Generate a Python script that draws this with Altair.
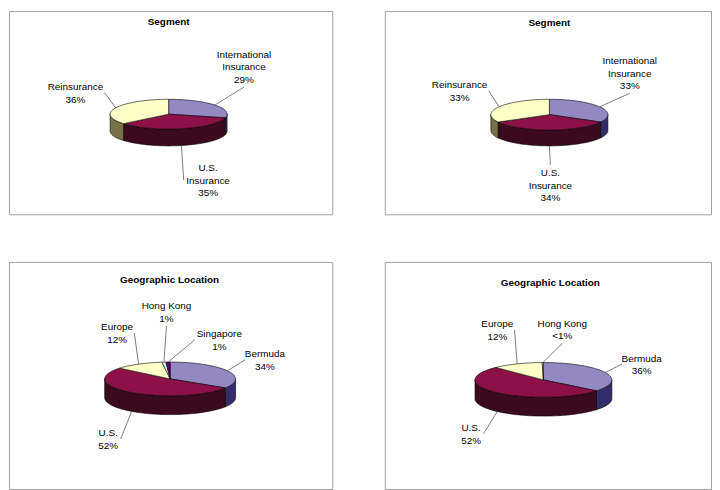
import math
import altair as alt
import pandas as pd

# ---------------- data ----------------
seg_names = ["International Insurance", "U.S. Insurance", "Reinsurance"]
seg_left_values = [29, 35, 36]
seg_right_values = [33, 34, 33]
geo_left_names = ["Bermuda", "U.S.", "Europe", "Hong Kong", "Singapore"]
geo_left_values = [34, 52, 12, 1, 1]
geo_right_names = ["Bermuda", "U.S.", "Europe", "Hong Kong"]
geo_right_values = [36, 52, 12, 0.3]
panel_titles = ["Segment", "Segment", "Geographic Location", "Geographic Location"]

# ---------------- style ----------------
TOP_COLORS = ["#9488C3", "#8E1048", "#FFFFC8", "#CCFFFF", "#660066"]
SIDE_COLORS = ["#332D6E", "#3C0A1E", "#787046", "#5F8080", "#2A002A"]
FONT = "Liberation Sans"
FS = 10
LH = 12.5
CHAR_W = 4.8

panels = [
    dict(names=seg_names, values=seg_left_values, title=panel_titles[0],
         W=326, H=205, cx=161, cy=104, rx=59, ry=15, depth=17, Lx=100, Ly=65,
         tx=161, ty=11.5, nudge=[(-3, -8), (18, 3), (-3.5, 6)]),
    dict(names=seg_names, values=seg_right_values, title=panel_titles[1],
         W=329, H=205, cx=166, cy=104.5, rx=59, ry=15.5, depth=16, Lx=100, Ly=65,
         tx=166, ty=12, nudge=[(-5, -9), (1, 6), (-4.5, 9)]),
    dict(names=geo_left_names, values=geo_left_values, title=panel_titles[2],
         W=326, H=229, cx=162.5, cy=118, rx=66, ry=17, depth=19, Lx=108, Ly=65,
         tx=162, ty=18.7, nudge=[(1, 12), (1, 8), (-1.5, 10.5), (6.5, -3), (53, 25.5)]),
    dict(names=geo_right_names, values=geo_right_values, title=panel_titles[3],
         W=329, H=229, cx=160, cy=119, rx=69, ry=17.5, depth=19, Lx=108, Ly=65,
         tx=167, ty=21, nudge=[(1.5, 12), (0, 6.5), (-5, 9.5), (20, 14)]),
]


def label_lines(name, v, total):
    pct = v / total * 100
    p = "<1%" if pct < 0.5 else f"{round(pct)}%"
    lines = name.split(" ") if (len(name) > 10 and " " in name) else [name]
    return lines + [p]


def pt(g, a, drop=0.0):
    return g["cx"] + g["rx"] * math.sin(a), g["cy"] - g["ry"] * math.cos(a) + drop


def build_panel(g):
    names, values = g["names"], g["values"]
    total = float(sum(values))
    tops, sides, texts, leaders = [], [], [], []
    acc = 0.0
    for i, (name, v) in enumerate(zip(names, values)):
        a0 = acc / total * 2 * math.pi
        acc += v
        a1 = acc / total * 2 * math.pi
        n = max(2, int(math.degrees(a1 - a0) / 2) + 2)
        arc = [a0 + (a1 - a0) * k / (n - 1) for k in range(n)]
        poly = [(g["cx"], g["cy"])] + [pt(g, a) for a in arc] + [(g["cx"], g["cy"])]
        for k, (x, y) in enumerate(poly):
            tops.append({"poly": i, "seq": k, "x": x, "y": y, "fill": TOP_COLORS[i]})
        b0, b1 = max(a0, math.pi / 2), min(a1, 1.5 * math.pi)
        if b1 > b0:
            m = max(2, int(math.degrees(b1 - b0) / 2) + 2)
            barc = [b0 + (b1 - b0) * k / (m - 1) for k in range(m)]
            upper = [pt(g, a) for a in barc]
            lower = [pt(g, a, g["depth"]) for a in reversed(barc)]
            ring = upper + lower + [upper[0]]
            for k, (x, y) in enumerate(ring):
                sides.append({"poly": i, "seq": k, "x": x, "y": y, "fill": SIDE_COLORS[i]})
        mid = (a0 + a1) / 2
        front = math.cos(mid) < 0
        ex, ey = pt(g, mid, g["depth"] if front else 0)
        dx, dy = g["nudge"][i]
        lx = g["cx"] + g["Lx"] * math.sin(mid) + dx
        ly = g["cy"] - g["Ly"] * math.cos(mid) + dy
        lines = label_lines(name, v, total)
        nl = len(lines)
        half_w = max(len(s) for s in lines) * CHAR_W / 2 + 3
        half_h = (nl - 1) * LH / 2 + 5 + 3
        if lx - half_w <= ex <= lx + half_w:
            ax_, ay_ = lx, (ly + half_h if ey > ly else ly - half_h)
        else:
            ax_, ay_ = (lx + half_w if ex > lx else lx - half_w), ly
        texts.append({"x": lx, "y": ly - 4.3 - (nl - 1) * LH / 2, "text": "\n".join(lines)})
        leaders.append({"x": ax_, "y": ay_, "x2": ex, "y2": ey})
    return tops, sides, texts, leaders


def panel_chart(g):
    tops, sides, texts, leaders = build_panel(g)
    xs = alt.Scale(domain=[0, g["W"]], nice=False, zero=False)
    ys = alt.Scale(domain=[0, g["H"]], nice=False, zero=False, reverse=True)

    def xy():
        return dict(x=alt.X("x:Q", scale=xs, axis=None), y=alt.Y("y:Q", scale=ys, axis=None))

    side = alt.Chart(pd.DataFrame(sides)).mark_line(
        stroke="black", strokeWidth=0.6, strokeJoin="round"
    ).encode(**xy(), fill=alt.Fill("fill:N", scale=None), detail="poly:N", order="seq:Q")
    top = alt.Chart(pd.DataFrame(tops)).mark_line(
        stroke="black", strokeWidth=0.6, strokeJoin="round"
    ).encode(**xy(), fill=alt.Fill("fill:N", scale=None), detail="poly:N", order="seq:Q")
    lead = alt.Chart(pd.DataFrame(leaders)).mark_rule(color="#444444", strokeWidth=0.7).encode(
        **xy(), x2=alt.X2("x2:Q"), y2=alt.Y2("y2:Q"))
    text = alt.Chart(pd.DataFrame(texts)).mark_text(
        font=FONT, fontSize=FS, lineBreak="\n", lineHeight=LH, baseline="top",
        align="center", color="black"
    ).encode(**xy(), text="text:N")
    title = alt.Chart(pd.DataFrame({"t": [g["title"]]})).mark_text(
        font=FONT, fontSize=FS, fontWeight="bold", baseline="middle", align="center", color="black"
    ).encode(x=alt.value(g["tx"]), y=alt.value(g["ty"]), text="t:N")
    return alt.layer(side, top, lead, text, title).properties(width=g["W"], height=g["H"])


charts = [panel_chart(g) for g in panels]
row1 = alt.hconcat(charts[0], charts[1], spacing=51)
row2 = alt.hconcat(charts[2], charts[3], spacing=51)
chart = alt.vconcat(row1, row2, spacing=46).properties(
    padding=0, background="white"
).configure_view(stroke="#A0A0A0", strokeWidth=1)

chart.save("out.html", embed_options={"renderer": "svg", "actions": False})
